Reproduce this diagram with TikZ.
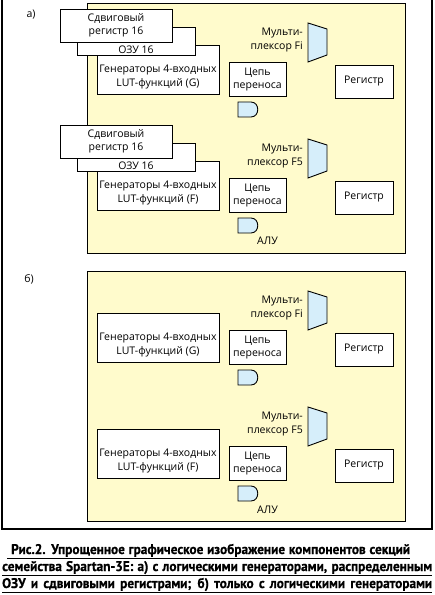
\documentclass[tikz,border=0pt]{standalone}
\usepackage{fontspec}
\setmainfont{Open Sans}
\newfontfamily\capfont[FakeStretch=0.95, BoldFeatures={FakeBold=0.6}]{PT Sans}
\usepackage{tikz}

\definecolor{panel}{RGB}{255,251,204}
\definecolor{unit}{RGB}{214,238,250}
\tikzset{
  box/.style={draw, fill=white, line width=0.9bp},
  unitbox/.style={draw, fill=unit, line width=0.9bp},
  lbl/.style={font=\fontsize{10.5bp}{13.5bp}\selectfont, align=center, inner sep=0pt},
  captext/.style={font=\capfont\bfseries\fontsize{14bp}{16bp}\selectfont, anchor=base west, inner sep=0pt}
}

\begin{document}
\begin{tikzpicture}[x=1bp, y=-1bp]
  \useasboundingbox (0,0) rectangle (435,595);
  \draw[line width=1.4bp] (2,0) -- (2,529) -- (432,529) -- (432,0);
  \draw[fill=panel, line width=0.9bp] (87,3) rectangle (405,253);
  \draw[fill=panel, line width=0.9bp] (87,271) rectangle (405,521);
  \node[lbl] (tagA) at (31,15) {а)};
  \node[lbl] (tagB) at (29,279) {б)};
  \foreach \dy/\g/\f/\m in {0/a/G/Fi, 116/b/F/F5, 268/c/G/Fi, 384/d/F/F5} {
    \draw[box] (97,45+\dy) rectangle (219,94+\dy);
    \node[lbl] (gen\g) at (158,77+\dy) {Генераторы 4-входных\\LUT-функций (\f)};
    \draw[box] (229,62+\dy) rectangle (286,96+\dy);
    \node[lbl] (carry\g) at (257.5,79.5+\dy) {Цепь\\переноса};
    \draw[box] (335,65+\dy) rectangle (393,98+\dy);
    \node[lbl] (reg\g) at (364,81.5+\dy) {Регистр};
    \draw[unitbox] (308,23+\dy) -- (327,29+\dy) -- (327,55+\dy) -- (308,62+\dy) -- cycle;
    \node[lbl, align=right, anchor=east] (mux\g) at (303,40+\dy) {Мульти-\\плексор \m};
    \draw[unitbox] (238,102+\dy) -- (251,102+\dy) .. controls (260,102+\dy) and (260,117+\dy) .. (251,117+\dy) -- (238,117+\dy) -- cycle;
  }
  \node[lbl] (aluA) at (267.5,241) {АЛУ};
  \node[lbl] (aluB) at (267.5,510) {АЛУ};
  \foreach \dy/\g in {0/a, 116/b} {
    \draw[box] (77,27+\dy) rectangle (195,55+\dy);
    \node[lbl] (ram\g) at (136,49.5+\dy) {ОЗУ 16};
    \draw[box] (60,9+\dy) rectangle (172,42+\dy);
    \node[lbl] (srl\g) at (116,25.5+\dy) {Сдвиговый\\регистр 16};
  }
  \node[captext] (capA) at (7,554) {\makebox[403bp][s]{\hspace{4bp}Рис.2. Упрощенное графическое изображение компонентов секций}};
  \node[captext] (capB) at (2,571) {\makebox[430bp][s]{семейства Spartan-3E: а) с логическими генераторами, распределенным}};
  \node[captext] (capC) at (2,588) {\makebox[430bp][s]{ОЗУ и сдвиговыми регистрами; б) только с логическими генераторами}};
  \foreach \c in {capA, capB, capC}
    \draw[line width=1.2bp] ([yshift=-1.2bp]\c.south west) -- ([yshift=-1.2bp]\c.south east);
\end{tikzpicture}
\end{document}
